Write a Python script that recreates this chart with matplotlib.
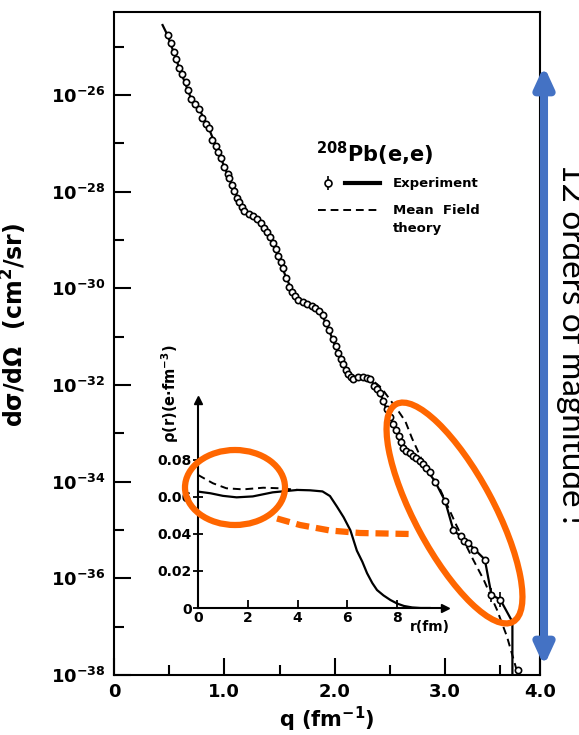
import numpy as np
import matplotlib.pyplot as plt
from matplotlib.patches import Ellipse, FancyArrowPatch

plt.rcParams['font.family'] = 'DejaVu Sans'
plt.rcParams['font.weight'] = 'bold'
plt.rcParams['axes.labelweight'] = 'bold'
plt.rcParams['mathtext.fontset'] = 'custom'
plt.rcParams['mathtext.rm'] = 'DejaVu Sans:bold'
plt.rcParams['mathtext.it'] = 'DejaVu Sans:bold:italic'
plt.rcParams['mathtext.default'] = 'rm'

# main panel: 208Pb(e,e) cross section, log10(dsigma/dOmega)
q_exp = [0.485, 0.515, 0.545, 0.565, 0.59, 0.62, 0.65, 0.675, 0.70, 0.735,
         0.77, 0.80, 0.83, 0.86, 0.89, 0.92, 0.945, 0.97, 1.00, 1.03,
         1.045, 1.07, 1.09, 1.115, 1.136, 1.16, 1.18, 1.22, 1.257, 1.295,
         1.33, 1.36, 1.39, 1.415, 1.44, 1.465, 1.485, 1.51, 1.53, 1.56,
         1.59, 1.61, 1.636, 1.67, 1.71, 1.75, 1.79, 1.825, 1.86, 1.89,
         1.92, 1.95, 1.985, 2.01, 2.03, 2.055, 2.075, 2.10, 2.12, 2.145,
         2.17, 2.215, 2.26, 2.29, 2.32, 2.36, 2.385, 2.41, 2.44, 2.47,
         2.50, 2.53, 2.555, 2.58, 2.60, 2.62, 2.65, 2.68, 2.71, 2.74,
         2.77, 2.80, 2.83, 2.86, 2.91, 3.00, 3.075, 3.14, 3.17, 3.21,
         3.26, 3.36, 3.66]
logsig_exp = [-24.76, -24.93, -25.10, -25.25, -25.43, -25.57, -25.72, -25.90, -26.08, -26.18,
              -26.28, -26.47, -26.59, -26.69, -26.92, -27.05, -27.18, -27.31, -27.48, -27.64,
              -27.72, -27.86, -27.98, -28.12, -28.22, -28.32, -28.39, -28.46, -28.50, -28.57,
              -28.65, -28.74, -28.84, -28.94, -29.06, -29.19, -29.32, -29.46, -29.58, -29.78,
              -29.98, -30.07, -30.15, -30.23, -30.29, -30.33, -30.36, -30.40, -30.46, -30.56,
              -30.71, -30.87, -31.05, -31.20, -31.33, -31.46, -31.57, -31.69, -31.78, -31.84,
              -31.87, -31.84, -31.83, -31.85, -31.88, -32.02, -32.09, -32.16, -32.33, -32.50,
              -32.66, -32.81, -32.94, -33.06, -33.18, -33.30, -33.36, -33.40, -33.46, -33.51,
              -33.58, -33.64, -33.72, -33.80, -34.00, -34.40, -35.00, -35.13, -35.23, -35.27,
              -35.41, -35.61, -37.90]

# points drawn with error bars (half width in decades)
q_err = [3.42, 3.50]
logsig_err = [-36.34, -36.44]
dlog_err = [0.15, 0.15]

# solid curve through the experiment
q_line = [0.44, 0.485, 0.59, 0.70, 0.77, 0.86, 0.945, 1.00, 1.09, 1.18,
          1.257, 1.33, 1.39, 1.485, 1.56, 1.636, 1.71, 1.79, 1.86, 1.92,
          2.03, 2.12, 2.17, 2.26, 2.32, 2.41, 2.47, 2.58, 2.62, 2.68,
          2.80, 2.91, 3.00, 3.075, 3.21, 3.36, 3.42, 3.50, 3.61, 3.61]
logsig_line = [-24.55, -24.76, -25.43, -26.08, -26.28, -26.69, -27.18, -27.48, -27.98, -28.39,
               -28.50, -28.65, -28.84, -29.32, -29.78, -30.15, -30.29, -30.36, -30.46, -30.71,
               -31.33, -31.78, -31.87, -31.83, -31.88, -32.16, -32.50, -33.06, -33.30, -33.40,
               -33.64, -34.00, -34.40, -35.00, -35.27, -35.61, -36.34, -36.44, -36.90, -38.0]

# mean field theory (dashed), visible where it leaves the data
q_mft = [2.26, 2.34, 2.42, 2.51, 2.58, 2.64, 2.70, 2.80, 2.955, 3.10,
         3.24, 3.35, 3.47, 3.56, 3.64, 3.66]
logsig_mft = [-31.83, -31.90, -32.05, -32.33, -32.55, -32.75, -33.10, -33.60, -34.16, -34.89,
              -35.55, -36.03, -36.65, -37.20, -37.83, -38.0]

ytick_exp = [-38, -36, -34, -32, -30, -28, -26]
yminor_exp = [-37, -35, -33, -31, -29, -27, -25]
xtick_vals = [0, 1, 2, 3]
xtick_labels = ['0', '1.0', '2.0', '3.0']
xminor_vals = [0.5, 1.5, 2.5, 3.5]

# inset: charge density rho(r) in e/fm^3
r_exp = [0, 0.5, 1.0, 1.55, 2.2, 3.0, 4.0, 4.5, 5.0, 5.3, 5.58, 5.85, 6.12, 6.38, 6.6,
         6.79, 7.0, 7.19, 7.45, 7.73, 8.0, 8.27, 8.6, 8.94, 9.3]
rho_exp = [0.0629, 0.0620, 0.0606, 0.0598, 0.0603, 0.0625, 0.0638, 0.0636, 0.0630, 0.0605,
           0.0548, 0.049, 0.042, 0.031, 0.025, 0.0188, 0.0135, 0.0097, 0.0068, 0.0043,
           0.0024, 0.0011, 0.0003, 0.0, 0.0]
r_mft = [0, 0.6, 1.14, 1.81, 2.62, 3.29, 4.0]
rho_mft = [0.0719, 0.0674, 0.0647, 0.0641, 0.0650, 0.0647, 0.0638]
rtick_vals = [0, 2, 4, 6, 8]
rhotick_vals = [0, 0.02, 0.04, 0.06, 0.08]
rhotick_labels = ['0', '0.02', '0.04', '0.06', '0.08']

W, H = 579, 735
fig = plt.figure(figsize=(W / 100, H / 100), dpi=100)

# main axes
ax = fig.add_axes([114 / W, 1 - 675 / H, (540 - 114) / W, (675 - 12) / H])
ax.plot(q_line, 10.0 ** np.array(logsig_line), color='k', lw=1.6, zorder=2)
ax.plot(q_mft, 10.0 ** np.array(logsig_mft), color='k', lw=1.4, dashes=(4, 2.5), zorder=2)
ax.plot(q_exp, 10.0 ** np.array(logsig_exp), 'o', ms=4.5, mfc='white', mec='k', mew=1.2, zorder=3)
le = np.array(logsig_err)
de = np.array(dlog_err)
ax.errorbar(q_err, 10.0 ** le, yerr=[10.0 ** le - 10.0 ** (le - de), 10.0 ** (le + de) - 10.0 ** le],
            fmt='o', ms=4.5, mfc='white', mec='k', mew=1.2, ecolor='k', elinewidth=1.2, capsize=0, zorder=3)
ax.set_yscale('log')
ax.set_xlim(0, 3.86)
ax.set_ylim(1e-38, 10 ** -24.28)
ax.set_yticks([10.0 ** e for e in ytick_exp], labels=['$10^{%d}$' % e for e in ytick_exp])
ax.set_yticks([10.0 ** e for e in yminor_exp], minor=True)
ax.yaxis.set_minor_formatter(plt.NullFormatter())
# the scan labels the right edge of the axis "4.0"
ax.set_xticks(xtick_vals + [3.86], labels=xtick_labels + ['4.0'])
ax.set_xticks(xminor_vals, minor=True)
ax.tick_params(which='major', direction='in', length=12, width=1.5, labelsize=13, pad=6)
ax.tick_params(which='minor', direction='in', length=7, width=1.5)
for s in ax.spines.values():
    s.set_linewidth(1.5)
ax.set_xlabel('q (fm$^{-1}$)', fontsize=15)
ax.xaxis.set_label_coords(0.5, -0.045)
ax.set_ylabel(r'd$\sigma$/d$\Omega$  (cm$^2$/sr)', fontsize=17)
ax.yaxis.set_label_coords(-0.2, 0.528)

# inset
ins = fig.add_axes([198 / W, 1 - 608 / H, 247 / W, 208 / H])
ins.patch.set_alpha(0)
ins.plot(r_exp, rho_exp, color='k', lw=1.6)
ins.plot(r_mft, rho_mft, color='k', lw=1.4, dashes=(4, 2.5))
ins.set_xlim(0, 9.92)
ins.set_ylim(0, 0.1124)
ins.spines[['top', 'right']].set_visible(False)
ins.spines[['left', 'bottom']].set_linewidth(1.5)
ins.plot(1, 0, '>k', ms=6, transform=ins.get_yaxis_transform(), clip_on=False)
ins.plot(0, 1, '^k', ms=6, transform=ins.get_xaxis_transform(), clip_on=False)
ins.set_xticks(rtick_vals)
ins.set_yticks(rhotick_vals, labels=rhotick_labels)
ins.tick_params(axis='x', direction='in', length=6, width=1.3, labelsize=10, pad=2)
ins.tick_params(axis='y', direction='inout', length=7, width=1.3, labelsize=10, pad=1)
ins.set_ylabel(r'$\rho$(r)(e$\cdot$fm$^{-3}$)', fontsize=10.5)
ins.yaxis.set_label_coords(-0.07, 1.03)
ins.text(0.94, -0.09, 'r(fm)', transform=ins.transAxes, ha='center', va='center', fontsize=10)

# overlay in pixel coordinates for legend and annotations
ov = fig.add_axes([0, 0, 1, 1])
ov.set_xlim(0, W)
ov.set_ylim(H, 0)
ov.axis('off')
ov.patch.set_alpha(0)

ov.text(316, 162, '$^{208}$Pb(e,e)', fontsize=15, ha='left', va='baseline')
ov.errorbar([328], [183], yerr=[[7], [7]], fmt='o', ms=5, mfc='white', mec='k', mew=1.2,
            ecolor='k', elinewidth=1.2, capsize=0)
ov.plot([345, 380], [183, 183], color='k', lw=3)
ov.text(393, 183, 'Experiment', fontsize=9.5, va='center')
ov.plot([318, 380], [210, 210], color='k', lw=1.4, dashes=(4, 2.5))
ov.text(393, 210, 'Mean  Field', fontsize=9.5, va='center')
ov.text(393, 228, 'theory', fontsize=9.5, va='center')

orange = '#FF6600'
ov.add_patch(Ellipse((235, 487.5), 100, 75, fill=False, ec=orange, lw=4.5))
ov.add_patch(Ellipse((454.5, 513), 79, 247, angle=-28.2, fill=False, ec=orange, lw=4.5))
ov.plot([277, 300, 330, 360, 410], [518.5, 525, 530.5, 533, 534], color=orange, lw=4.5,
        dashes=(2.1, 1.1))

ov.add_patch(FancyArrowPatch((544, 66), (544, 666), arrowstyle='<|-|>,head_length=12,head_width=5.5',
                             mutation_scale=1, color='#4472C4', lw=5.8, shrinkA=0, shrinkB=0))
ov.text(556, 163, '12 orders of magnitude !', rotation=-90, ha='left', va='top',
        fontsize=24, family='Lato', fontweight='normal')

fig.savefig('out.png', dpi=100)
